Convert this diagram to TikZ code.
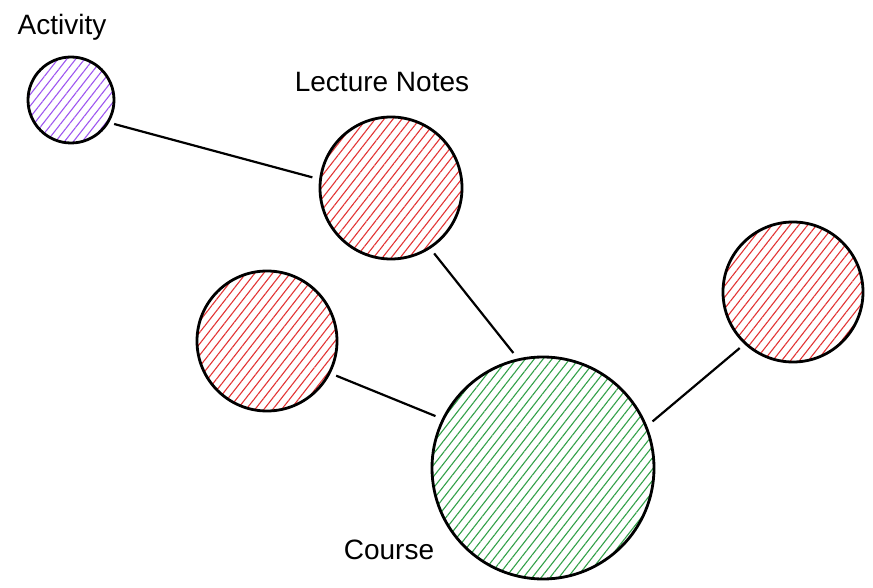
\documentclass[tikz,border=0pt]{standalone}
\usepackage{fontspec}
\setmainfont{Liberation Sans}
\usetikzlibrary{patterns.meta}
\definecolor{sketchviolet}{RGB}{158, 86, 240}
\definecolor{sketchred}{RGB}{226, 52, 52}
\definecolor{sketchgreen}{RGB}{50, 160, 72}

\begin{document}
\begin{tikzpicture}[
    x=1pt, y=-1pt,
    blob/.style={circle, draw=black, line width=2.8pt, inner sep=0pt, minimum size=#1},
    hatch/.style={pattern={Lines[angle=52, distance=7pt, line width=1.1pt]}, pattern color=#1},
    link/.style={line width=2.2pt, shorten >=7pt, shorten <=6pt},
    tag/.style={font=\fontsize{28}{32}\selectfont}
]
\useasboundingbox (0,0) rectangle (873,588);

% Circles
\node[blob=86pt, hatch=sketchviolet] (activity) at (71,100) {};
\node[blob=142pt, hatch=sketchred] (notes) at (391,188) {};
\node[blob=140pt, hatch=sketchred] (left) at (267,341) {};
\node[blob=140pt, hatch=sketchred] (right) at (793,292) {};
\node[blob=222pt, hatch=sketchgreen] (course) at (543,468) {};

% Labels
\node[tag] (activitytag) at (62,27) {Activity};
\node[tag] (notestag) at (382,82) {Lecture Notes};
\node[tag] (coursetag) at (389,550) {Course};

% Links
\draw[link] (activity.-31) -- (notes.173);
\draw[link] (notes.-57) -- (course.103);
\draw[link] (left.-27) -- (course.154);
\draw[link] (right.227) -- (course.22);

\end{tikzpicture}
\end{document}
